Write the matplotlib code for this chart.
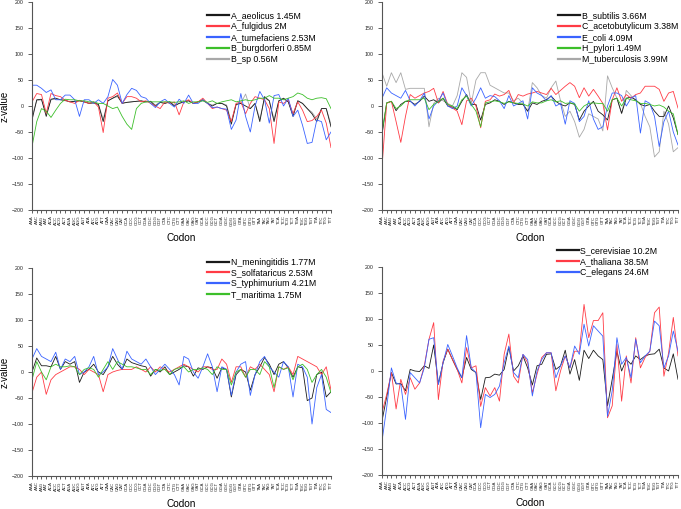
import matplotlib
matplotlib.use("Agg")
import matplotlib.pyplot as plt

plt.rcParams["font.family"] = ["Liberation Sans", "DejaVu Sans"]

codons = [a + b + c for a in "ACGT" for b in "ACGT" for c in "ACGT"]

# ---- panel 1 (top left) ----
p1_names = ["A_aeolicus 1.45M", "A_fulgidus 2M", "A_tumefaciens 2.53M",
            "B_burgdorferi 0.85M", "B_sp 0.56M"]
a_aeolicus = [-27, 12, 13, -20, 13, 15, 12, 11, 8, 9,
              10, 8, 5, 6, 3, -30, 10, 15, 20, 5,
              7, 8, 9, 10, 8, 9, 0, 7, 5, 8,
              0, 5, 8, 10, 5, 8, 12, 5, 0, 5,
              5, 0, -35, 3, 5, 0, -5, 5, -30, 18,
              10, -30, 10, 15, 8, -20, 10, 5, -5, -15,
              -30, -5, -5, -40]
a_fulgidus = [8, 24, 22, -14, 24, 20, 18, 11, 8, 5,
              11, 8, 5, 8, -2, -51, 15, 18, 25, 5,
              18, 18, 15, 8, 10, 5, 0, -5, 8, 5,
              8, -17, 8, 12, 5, 8, 15, 5, -5, -2,
              -5, -8, -30, 5, 8, -15, 5, 18, 15, 12,
              -5, -72, 8, 5, 12, -15, 8, -8, -30, -28,
              -20, -8, -33, -80]
a_tumefaciens = [40, 40, 34, 26, 31, 12, 12, 21, 21, 12,
                 -20, 12, 12, 5, 12, 5, 18, 51, 40, 5,
                 22, 34, 30, 18, 15, 5, -3, 8, 13, 5,
                 -2, 13, 5, 21, 5, 5, 12, 5, -3, -2,
                 -5, -6, -45, -27, 24, -20, -50, 0, 28, 12,
                 -33, 20, 22, 0, 15, -20, -8, -37, -72, -70,
                 -27, -30, -65, -50]
b_burgdorferi = [-78, -30, -5, -10, -22, -8, 5, 13, 12, 12,
                 10, 10, 8, 8, 5, 5, 0, -5, -2, -20,
                 -35, -45, -5, 5, 8, 8, 8, 8, 8, 8,
                 7, 8, 10, 5, 8, 8, 10, 7, 10, 5,
                 8, 10, 12, 8, 10, 12, 10, 12, 15, 15,
                 20, 15, 15, 12, 15, 18, 25, 22, 15, 12,
                 15, 16, 14, -5]
b_sp = [-20, 10, 12, -15, 12, 13, 12, 10, 8, 9,
        10, 8, 6, 6, 3, -25, 10, 15, 18, 6,
        7, 8, 9, 9, 8, 9, 2, 7, 5, 8,
        2, 5, 8, 10, 5, 8, 10, 5, 2, 5,
        5, 2, -30, 3, 5, 23, -5, 5, -25, 15,
        10, -25, 10, 13, 8, -15, 10, 5, -5, -12,
        -25, -5, -5, -35]

# ---- panel 2 (top right) ----
p2_names = ["B_subtilis 3.66M", "C_acetobutylicum 3.38M", "E_coli 4.09M",
            "H_pylori 1.49M", "M_tuberculosis 3.99M"]
b_subtilis = [-55, 6, 9, -9, 3, 9, 9, 3, 9, 19,
              9, 12, 6, 15, 0, -2, -7, 9, 22, 3,
              3, -27, 3, 6, 12, 9, 3, 9, 6, 3,
              3, -10, 6, 3, 9, 12, 19, 9, 3, 0,
              6, 3, -27, -10, 0, 9, -10, -17, -27, 12,
              15, -14, 15, 17, 12, 3, 0, 3, -10, -20,
              -20, 0, -23, -55]
c_acetobutylicum = [-117, 5, 9, -30, -70, -20, 22, 15, 20, 25,
                    28, 34, 6, 28, 3, -4, -10, -36, 10, 15,
                    0, -42, 9, 12, 23, 19, 22, 30, 6, 22,
                    19, 23, 25, 28, 25, 22, 34, 22, 30, 38,
                    45, 38, 16, 35, 19, 32, 19, 5, -46, 12,
                    35, 9, 22, 15, 22, 25, 38, 38, 38, 32,
                    9, 25, 28, -4]
e_coli = [15, 35, 25, 20, 15, 30, 10, 0, 10, 25,
          -25, 0, 10, 25, 0, -5, 0, 35, 20, 0,
          15, 35, 15, 20, 18, 10, -5, 20, 0, 5,
          10, -25, 35, 25, 20, 10, 20, 0, 5, -35,
          10, 5, -30, -20, 10, -25, -45, -40, 0, 25,
          25, 20, 0, 15, 20, -52, 10, 5, -20, -78,
          -30, -10, -50, -75]
h_pylori = [-50, 6, 9, -5, 0, 9, 12, 12, 12, 15,
            -7, 3, 9, 15, 3, 0, -5, 12, 19, 3,
            -10, -40, 6, 8, 10, 8, 5, 8, 6, 5,
            4, 0, 8, 6, 6, 10, 12, 8, 10, 5,
            6, 4, -10, 0, 5, 6, 5, 5, -10, 12,
            15, 0, 15, 12, 10, 5, 5, 3, 0, 2,
            -2, -10, -15, -55]
m_tuberculosis = [64, 38, 64, 45, 64, 32, 34, 34, 34, 34,
                  -40, 5, 15, 10, 5, 0, 20, 64, 55, 5,
                  50, 64, 64, 40, 35, 30, 25, 25, 10, 15,
                  5, -10, 45, 35, 20, 15, 35, 48, 10, -20,
                  -10, -30, -60, -45, -15, -20, -25, -48, 58, 35,
                  15, -15, 30, 20, 10, 5, -20, -40, -98, -88,
                  -10, -35, -88, -80]

# ---- panel 3 (bottom left) ----
p3_names = ["N_meningitidis 1.77M", "S_solfataricus 2.53M",
            "S_typhimurium 4.21M", "T_maritima 1.75M"]
n_meningitidis = [0, 27, 12, 12, 10, 30, 5, 20, 15, 20,
                  -20, 0, 5, 15, 0, -5, 10, 30, 15, 5,
                  25, 18, 15, 12, 10, -8, 5, 0, 10, -5,
                  0, 5, 12, 10, -8, 8, 5, 10, 8, -12,
                  8, 5, -48, -5, 5, 0, -35, -5, 10, 28,
                  15, -5, 15, 20, 8, -10, 10, 8, -55, -50,
                  -5, 0, -48, -38]
s_solfataricus = [-40, -10, 0, -43, -15, -5, 0, 5, 10, 10,
                  5, -5, 5, 0, -5, -38, -5, 0, 3, 5,
                  5, 5, 10, 5, 0, 10, 0, 10, 5, 0,
                  5, 10, 15, 10, 5, 0, 10, 10, 5, 5,
                  25, 15, -20, 10, 10, -10, 10, 5, 15, 5,
                  -5, -38, 10, 5, 10, -5, 30, 25, 20, 15,
                  10, -5, 10, -35]
s_typhimurium = [25, 45, 30, 25, 20, 38, 5, 25, 20, 30,
                 -5, 0, 10, 30, -5, 0, 10, 45, 25, 5,
                 40, 25, 20, 15, 25, 10, -5, 5, 15, 5,
                 -5, -25, 30, 25, 0, -12, 10, 35, 10, -38,
                 10, 5, -45, 0, 15, 20, -45, -5, 20, 30,
                 10, 0, -10, 20, 10, -48, 15, 10, -10, -100,
                 -30, -5, -72, -78]
t_maritima = [-15, 20, 0, -15, 10, 15, 10, 10, 12, 10,
              -5, 5, 8, 5, -10, 5, 20, 5, 20, 15,
              10, 10, 8, 5, 5, -5, 5, 3, 5, -5,
              5, 8, 10, 0, 5, 5, 8, 5, -5, 10,
              5, 5, -25, 0, 5, -10, 5, 5, -5, 20,
              10, -30, 10, 5, 8, -15, 10, 15, 5, -20,
              -5, 5, -10, -40]

# ---- panel 4 (bottom right) ----
p4_names = ["S_cerevisiae 10.2M", "A_thaliana 38.5M", "C_elegans 24.6M"]
s_cerevisiae = [-96, -50, -3, -25, -24, -38, 3, 0, -1, 10,
                5, 50, -25, 16, 42, 22, 3, -13, 26, 3,
                -3, -55, -13, -12, -6, -8, 3, 46, 0, 10,
                29, 6, -27, 10, 13, 32, 33, 3, 10, 40,
                -6, 22, -18, 40, 24, 40, 29, 22, -67, -16,
                38, 0, 22, 13, 29, 22, 29, 32, 33, 42,
                6, 0, 33, -16]
a_thaliana = [-80, -45, -3, -73, -16, -45, -13, -35, -23, 10,
              61, 93, -55, 19, 42, 22, 3, -23, 45, 6,
              10, -68, -32, -48, -32, -58, 32, 71, -10, -23,
              32, 16, -42, -6, 26, 35, 35, -38, 0, 29,
              6, 38, 38, 128, 64, 97, 97, 112, -90, -67,
              51, -58, 29, -23, 64, 6, 26, 38, 112, 123,
              -10, 35, 103, 29]
c_elegans = [-135, -70, 6, -23, -26, -93, -3, -13, -23, 6,
             61, 64, -26, 16, 51, 29, 6, -13, 68, 6,
             -3, -109, -45, -51, -45, -29, 16, 48, -3, -13,
             32, 22, -48, 0, 22, 35, 35, -13, 10, 29,
             6, 48, 32, 90, 48, 87, 77, 67, -87, -38,
             64, 13, 26, -13, 61, 16, 29, 38, 96, 87,
             6, 29, 77, 38]

colors = ["#1a1a1a", "#ff3b45", "#3a63ff", "#3cbf2a", "#a8a8a8"]

# pixel boxes (left, top, right, bottom) and legend anchors in axes coords
panels = [
    (p1_names, [a_aeolicus, a_fulgidus, a_tumefaciens, b_burgdorferi, b_sp],
     [32, 2, 331, 210], (0.585, 0.957), True),
    (p2_names, [b_subtilis, c_acetobutylicum, e_coli, h_pylori, m_tuberculosis],
     [382, 2, 678, 210], (0.595, 0.957), False),
    (p3_names, [n_meningitidis, s_solfataricus, s_typhimurium, t_maritima],
     [32, 268, 331, 476], (0.585, 1.05), True),
    (p4_names, [s_cerevisiae, a_thaliana, c_elegans],
     [382, 267, 678, 475], (0.59, 1.099), False),
]

W, H = 681, 509
fig = plt.figure(figsize=(W / 100, H / 100), dpi=100)

for names, series, (x0, y0, x1, y1), leg_xy, ylab in panels:
    ax = fig.add_axes([x0 / W, 1 - y1 / H, (x1 - x0) / W, (y1 - y0) / H])
    x = range(len(codons))
    for i, (name, vals) in enumerate(zip(names, series)):
        assert len(vals) == 64, name
        z = 1 if colors[i] == "#a8a8a8" else 2
        ax.plot(x, vals, color=colors[i], lw=0.6, label=name, zorder=z)
    ax.set_xlim(0, 63)
    ax.set_ylim(-200, 200)
    ax.set_yticks(range(-200, 201, 50))
    ax.set_xticks(list(x))
    ax.set_xticklabels(codons, rotation=90, fontsize=3.2, color="#333333")
    ax.tick_params(axis="y", labelsize=3.8, length=3, width=0.6, pad=3,
                   colors="#444444", labelcolor="#222222")
    ax.tick_params(axis="x", length=2.5, width=0.6, pad=1.5,
                   colors="#444444", labelcolor="#222222")
    for s in ["top", "right"]:
        ax.spines[s].set_visible(False)
    for s in ["left", "bottom"]:
        ax.spines[s].set_color("#555555")
        ax.spines[s].set_linewidth(0.8)
    ax.set_xlabel("Codon", fontsize=7.2, labelpad=5)
    if ylab:
        ax.set_ylabel("z-value", fontsize=7, labelpad=1.5)
    leg = ax.legend(loc="upper left", bbox_to_anchor=leg_xy, frameon=False,
                    fontsize=6.3, handlelength=2.5, handletextpad=0.2,
                    labelspacing=0.22, borderpad=0, borderaxespad=0)
    for h in leg.get_lines():
        h.set_linewidth(1.6)

fig.savefig("out.png", dpi=100)
